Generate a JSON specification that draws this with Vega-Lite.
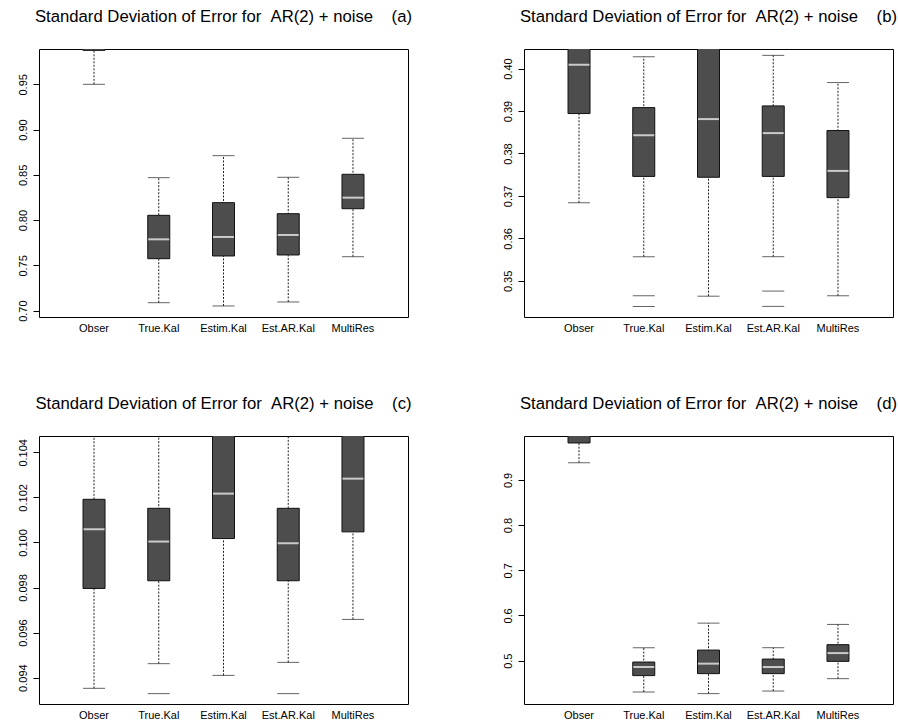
{
  "$schema": "https://vega.github.io/schema/vega-lite/v6.json",
  "background": "white",
  "padding": {"left": 16, "top": 8, "right": 0, "bottom": 0},
  "config": {
    "font": "Liberation Sans",
    "view": {"stroke": "#000", "strokeWidth": 1},
    "title": {"fontSize": 16.7, "fontWeight": "normal", "color": "#000", "anchor": "middle", "frame": "group", "offset": 23},
    "axisX": {"title": null, "ticks": false, "domain": false, "labelAngle": 0, "labelFontSize": 11, "labelColor": "#000", "labelPadding": 5, "grid": false},
    "axisY": {"title": null, "domain": false, "ticks": true, "tickColor": "#000", "tickSize": 6, "grid": false, "labelFontSize": 11, "labelColor": "#000", "labelAngle": -90, "labelAlign": "center", "labelBaseline": "alphabetic", "labelPadding": 7, "labelOverlap": false, "labelFlush": false}
  },
  "datasets": {
    "stats": [
      {"p": "a", "cat": "Obser", "lower": 0.95, "q1": 0.9875, "median": 1.0, "q3": 1.01, "upper": 1.05},
      {"p": "a", "cat": "True.Kal", "lower": 0.7088, "q1": 0.7574, "median": 0.7788, "q3": 0.8053, "upper": 0.8469},
      {"p": "a", "cat": "Estim.Kal", "lower": 0.7052, "q1": 0.7604, "median": 0.7814, "q3": 0.8193, "upper": 0.8712},
      {"p": "a", "cat": "Est.AR.Kal", "lower": 0.7096, "q1": 0.7615, "median": 0.7836, "q3": 0.8071, "upper": 0.8473},
      {"p": "a", "cat": "MultiRes", "lower": 0.7596, "q1": 0.8126, "median": 0.8248, "q3": 0.8506, "upper": 0.8904},
      {"p": "b", "cat": "Obser", "lower": 0.3684, "q1": 0.3894, "median": 0.4009, "q3": 0.412, "upper": 0.43},
      {"p": "b", "cat": "True.Kal", "lower": 0.3557, "q1": 0.3746, "median": 0.3843, "q3": 0.3908, "upper": 0.4028},
      {"p": "b", "cat": "Estim.Kal", "lower": 0.3464, "q1": 0.3744, "median": 0.3881, "q3": 0.41, "upper": 0.43},
      {"p": "b", "cat": "Est.AR.Kal", "lower": 0.3557, "q1": 0.3746, "median": 0.3848, "q3": 0.3912, "upper": 0.4031},
      {"p": "b", "cat": "MultiRes", "lower": 0.3465, "q1": 0.3696, "median": 0.3759, "q3": 0.3854, "upper": 0.3967},
      {"p": "c", "cat": "Obser", "lower": 0.093526, "q1": 0.097958, "median": 0.100586, "q3": 0.101915, "upper": 0.106},
      {"p": "c", "cat": "True.Kal", "lower": 0.09462, "q1": 0.0983, "median": 0.10004, "q3": 0.101516, "upper": 0.106},
      {"p": "c", "cat": "Estim.Kal", "lower": 0.0941, "q1": 0.100173, "median": 0.102168, "q3": 0.106, "upper": 0.108},
      {"p": "c", "cat": "Est.AR.Kal", "lower": 0.094678, "q1": 0.0983, "median": 0.099965, "q3": 0.101516, "upper": 0.106},
      {"p": "c", "cat": "MultiRes", "lower": 0.096584, "q1": 0.10047, "median": 0.102832, "q3": 0.106, "upper": 0.108},
      {"p": "d", "cat": "Obser", "lower": 0.9382, "q1": 0.9818, "median": 1.01, "q3": 1.03, "upper": 1.06},
      {"p": "d", "cat": "True.Kal", "lower": 0.4306, "q1": 0.4669, "median": 0.4859, "q3": 0.497, "upper": 0.5287},
      {"p": "d", "cat": "Estim.Kal", "lower": 0.4271, "q1": 0.4713, "median": 0.4934, "q3": 0.5234, "upper": 0.5831},
      {"p": "d", "cat": "Est.AR.Kal", "lower": 0.4328, "q1": 0.4713, "median": 0.4859, "q3": 0.5035, "upper": 0.5287},
      {"p": "d", "cat": "MultiRes", "lower": 0.4602, "q1": 0.4985, "median": 0.5168, "q3": 0.5354, "upper": 0.5802}
    ],
    "outliers": [
      {"p": "b", "cat": "True.Kal", "out": 0.3465},
      {"p": "b", "cat": "True.Kal", "out": 0.344},
      {"p": "b", "cat": "Est.AR.Kal", "out": 0.3476},
      {"p": "b", "cat": "Est.AR.Kal", "out": 0.344},
      {"p": "c", "cat": "True.Kal", "out": 0.09329},
      {"p": "c", "cat": "Est.AR.Kal", "out": 0.09329}
    ]
  },
  "columns": 2,
  "bounds": "flush",
  "spacing": {"column": 116, "row": 119},
  "concat": [
    {
      "title": "Standard Deviation of Error for\u00a0\u00a0AR(2) + noise\u00a0\u00a0\u00a0\u00a0(a)",
      "width": 369, "height": 268,
      "layer": [
        {"data": {"name": "stats"}, "transform": [{"filter": "datum.p == 'a'"}], "mark": {"type": "rule", "clip": true, "strokeDash": [2, 1.5], "color": "#222"},
         "encoding": {"x": {"field": "cat", "type": "nominal", "sort": null, "scale": {"type": "band", "paddingInner": 0, "paddingOuter": 0.35}},
                      "y": {"field": "lower", "type": "quantitative", "scale": {"domain": [0.693, 0.989], "nice": false, "zero": false}, "axis": {"values": [0.7, 0.75, 0.8, 0.85, 0.9, 0.95], "format": ".2f"}},
                      "y2": {"field": "upper"}}},
        {"data": {"name": "stats"}, "transform": [{"filter": "datum.p == 'a'"}], "mark": {"type": "tick", "clip": true, "size": 22, "thickness": 1, "color": "#222"},
         "encoding": {"x": {"field": "cat", "type": "nominal", "sort": null}, "y": {"field": "lower", "type": "quantitative"}}},
        {"data": {"name": "stats"}, "transform": [{"filter": "datum.p == 'a'"}], "mark": {"type": "tick", "clip": true, "size": 22, "thickness": 1, "color": "#222"},
         "encoding": {"x": {"field": "cat", "type": "nominal", "sort": null}, "y": {"field": "upper", "type": "quantitative"}}},
        {"data": {"name": "stats"}, "transform": [{"filter": "datum.p == 'a'"}], "mark": {"type": "bar", "clip": true, "width": 22, "fill": "#4d4d4d", "stroke": "#111", "strokeWidth": 1},
         "encoding": {"x": {"field": "cat", "type": "nominal", "sort": null}, "y": {"field": "q1", "type": "quantitative"}, "y2": {"field": "q3"}}},
        {"data": {"name": "stats"}, "transform": [{"filter": "datum.p == 'a'"}], "mark": {"type": "tick", "clip": true, "size": 21, "thickness": 2, "color": "#fff"},
         "encoding": {"x": {"field": "cat", "type": "nominal", "sort": null}, "y": {"field": "median", "type": "quantitative"}}}
      ]
    },
    {
      "title": "Standard Deviation of Error for\u00a0\u00a0AR(2) + noise\u00a0\u00a0\u00a0\u00a0(b)",
      "width": 369, "height": 268,
      "layer": [
        {"data": {"name": "stats"}, "transform": [{"filter": "datum.p == 'b'"}], "mark": {"type": "rule", "clip": true, "strokeDash": [2, 1.5], "color": "#222"},
         "encoding": {"x": {"field": "cat", "type": "nominal", "sort": null, "scale": {"type": "band", "paddingInner": 0, "paddingOuter": 0.35}},
                      "y": {"field": "lower", "type": "quantitative", "scale": {"domain": [0.3415, 0.4046], "nice": false, "zero": false}, "axis": {"values": [0.35, 0.36, 0.37, 0.38, 0.39, 0.4], "format": ".2f"}},
                      "y2": {"field": "upper"}}},
        {"data": {"name": "stats"}, "transform": [{"filter": "datum.p == 'b'"}], "mark": {"type": "tick", "clip": true, "size": 22, "thickness": 1, "color": "#222"},
         "encoding": {"x": {"field": "cat", "type": "nominal", "sort": null}, "y": {"field": "lower", "type": "quantitative"}}},
        {"data": {"name": "stats"}, "transform": [{"filter": "datum.p == 'b'"}], "mark": {"type": "tick", "clip": true, "size": 22, "thickness": 1, "color": "#222"},
         "encoding": {"x": {"field": "cat", "type": "nominal", "sort": null}, "y": {"field": "upper", "type": "quantitative"}}},
        {"data": {"name": "stats"}, "transform": [{"filter": "datum.p == 'b'"}], "mark": {"type": "bar", "clip": true, "width": 22, "fill": "#4d4d4d", "stroke": "#111", "strokeWidth": 1},
         "encoding": {"x": {"field": "cat", "type": "nominal", "sort": null}, "y": {"field": "q1", "type": "quantitative"}, "y2": {"field": "q3"}}},
        {"data": {"name": "stats"}, "transform": [{"filter": "datum.p == 'b'"}], "mark": {"type": "tick", "clip": true, "size": 21, "thickness": 2, "color": "#fff"},
         "encoding": {"x": {"field": "cat", "type": "nominal", "sort": null}, "y": {"field": "median", "type": "quantitative"}}},
        {"data": {"name": "outliers"}, "transform": [{"filter": "datum.p == 'b'"}], "mark": {"type": "tick", "clip": true, "size": 22, "thickness": 1, "color": "#222"},
         "encoding": {"x": {"field": "cat", "type": "nominal", "sort": null}, "y": {"field": "out", "type": "quantitative"}}}
      ]
    },
    {
      "title": "Standard Deviation of Error for\u00a0\u00a0AR(2) + noise\u00a0\u00a0\u00a0\u00a0(c)",
      "width": 369, "height": 268,
      "layer": [
        {"data": {"name": "stats"}, "transform": [{"filter": "datum.p == 'c'"}], "mark": {"type": "rule", "clip": true, "strokeDash": [2, 1.5], "color": "#222"},
         "encoding": {"x": {"field": "cat", "type": "nominal", "sort": null, "scale": {"type": "band", "paddingInner": 0, "paddingOuter": 0.35}},
                      "y": {"field": "lower", "type": "quantitative", "scale": {"domain": [0.09283, 0.104725], "nice": false, "zero": false}, "axis": {"values": [0.094, 0.096, 0.098, 0.1, 0.102, 0.104], "format": ".3f"}},
                      "y2": {"field": "upper"}}},
        {"data": {"name": "stats"}, "transform": [{"filter": "datum.p == 'c'"}], "mark": {"type": "tick", "clip": true, "size": 22, "thickness": 1, "color": "#222"},
         "encoding": {"x": {"field": "cat", "type": "nominal", "sort": null}, "y": {"field": "lower", "type": "quantitative"}}},
        {"data": {"name": "stats"}, "transform": [{"filter": "datum.p == 'c'"}], "mark": {"type": "tick", "clip": true, "size": 22, "thickness": 1, "color": "#222"},
         "encoding": {"x": {"field": "cat", "type": "nominal", "sort": null}, "y": {"field": "upper", "type": "quantitative"}}},
        {"data": {"name": "stats"}, "transform": [{"filter": "datum.p == 'c'"}], "mark": {"type": "bar", "clip": true, "width": 22, "fill": "#4d4d4d", "stroke": "#111", "strokeWidth": 1},
         "encoding": {"x": {"field": "cat", "type": "nominal", "sort": null}, "y": {"field": "q1", "type": "quantitative"}, "y2": {"field": "q3"}}},
        {"data": {"name": "stats"}, "transform": [{"filter": "datum.p == 'c'"}], "mark": {"type": "tick", "clip": true, "size": 21, "thickness": 2, "color": "#fff"},
         "encoding": {"x": {"field": "cat", "type": "nominal", "sort": null}, "y": {"field": "median", "type": "quantitative"}}},
        {"data": {"name": "outliers"}, "transform": [{"filter": "datum.p == 'c'"}], "mark": {"type": "tick", "clip": true, "size": 22, "thickness": 1, "color": "#222"},
         "encoding": {"x": {"field": "cat", "type": "nominal", "sort": null}, "y": {"field": "out", "type": "quantitative"}}}
      ]
    },
    {
      "title": "Standard Deviation of Error for\u00a0\u00a0AR(2) + noise\u00a0\u00a0\u00a0\u00a0(d)",
      "width": 369, "height": 268,
      "layer": [
        {"data": {"name": "stats"}, "transform": [{"filter": "datum.p == 'd'"}], "mark": {"type": "rule", "clip": true, "strokeDash": [2, 1.5], "color": "#222"},
         "encoding": {"x": {"field": "cat", "type": "nominal", "sort": null, "scale": {"type": "band", "paddingInner": 0, "paddingOuter": 0.35}},
                      "y": {"field": "lower", "type": "quantitative", "scale": {"domain": [0.4041, 0.9972], "nice": false, "zero": false}, "axis": {"values": [0.5, 0.6, 0.7, 0.8, 0.9], "format": ".1f"}},
                      "y2": {"field": "upper"}}},
        {"data": {"name": "stats"}, "transform": [{"filter": "datum.p == 'd'"}], "mark": {"type": "tick", "clip": true, "size": 22, "thickness": 1, "color": "#222"},
         "encoding": {"x": {"field": "cat", "type": "nominal", "sort": null}, "y": {"field": "lower", "type": "quantitative"}}},
        {"data": {"name": "stats"}, "transform": [{"filter": "datum.p == 'd'"}], "mark": {"type": "tick", "clip": true, "size": 22, "thickness": 1, "color": "#222"},
         "encoding": {"x": {"field": "cat", "type": "nominal", "sort": null}, "y": {"field": "upper", "type": "quantitative"}}},
        {"data": {"name": "stats"}, "transform": [{"filter": "datum.p == 'd'"}], "mark": {"type": "bar", "clip": true, "width": 22, "fill": "#4d4d4d", "stroke": "#111", "strokeWidth": 1},
         "encoding": {"x": {"field": "cat", "type": "nominal", "sort": null}, "y": {"field": "q1", "type": "quantitative"}, "y2": {"field": "q3"}}},
        {"data": {"name": "stats"}, "transform": [{"filter": "datum.p == 'd'"}], "mark": {"type": "tick", "clip": true, "size": 21, "thickness": 2, "color": "#fff"},
         "encoding": {"x": {"field": "cat", "type": "nominal", "sort": null}, "y": {"field": "median", "type": "quantitative"}}}
      ]
    }
  ]
}
